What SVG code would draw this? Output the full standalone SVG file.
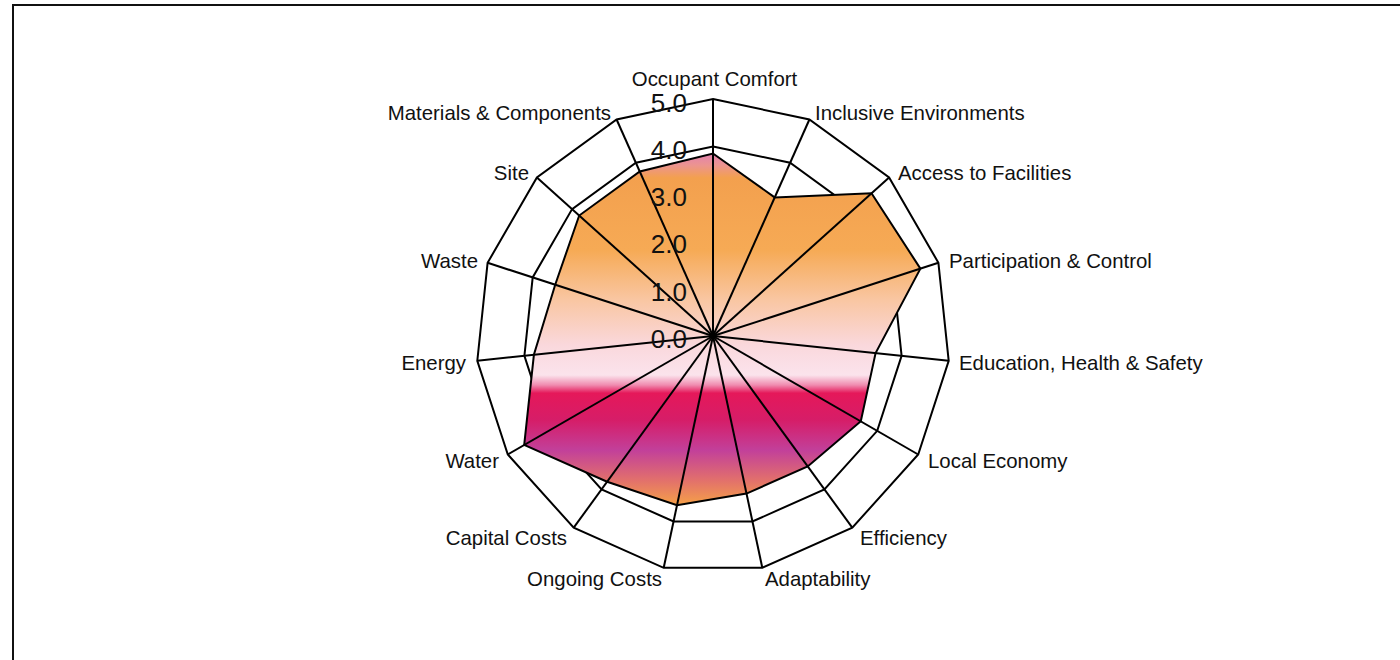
<svg xmlns="http://www.w3.org/2000/svg" width="1400" height="660" viewBox="0 0 1400 660">
<style>
.grid{fill:none;stroke:#000;stroke-width:2;stroke-linejoin:miter}
.spoke{stroke:#000;stroke-width:2}
.lbl{font-family:"Liberation Sans",Arial,sans-serif;font-size:20.4px;fill:#111}
.scl{font-family:"Liberation Sans",Arial,sans-serif;font-size:26px;fill:#111;text-anchor:end}
</style>
<defs>
<linearGradient id="fillGrad" gradientUnits="userSpaceOnUse" x1="0" y1="151" x2="0" y2="505">
<stop offset="0" stop-color="#e07db6"/>
<stop offset="0.04" stop-color="#ec9490"/>
<stop offset="0.076" stop-color="#f3a04e"/>
<stop offset="0.28" stop-color="#f6aa55"/>
<stop offset="0.42" stop-color="#f9c6a2"/>
<stop offset="0.548" stop-color="#fad8dc"/>
<stop offset="0.633" stop-color="#fbe3ec"/>
<stop offset="0.661" stop-color="#f08cb0"/>
<stop offset="0.684" stop-color="#e5185a"/>
<stop offset="0.76" stop-color="#d61d68"/>
<stop offset="0.845" stop-color="#c2409a"/>
<stop offset="0.93" stop-color="#e2706c"/>
<stop offset="1" stop-color="#f5a048"/>
</linearGradient>
</defs>
<rect x="13" y="5" width="1400" height="700" fill="#fff" stroke="#111" stroke-width="2"/>
<g id="grid">
<polygon class="grid" points="713,99 809.4,119.5 889.1,177.4 938.4,262.8 948.7,360.8 918.2,454.5 852.3,527.7 762.3,567.8 663.7,567.8 573.7,527.7 507.8,454.5 477.3,360.8 487.6,262.8 536.9,177.4 616.6,119.5"/>
<polygon class="grid" points="713,146.4 790.1,162.8 853.9,209.1 893.3,277.4 901.6,355.8 877.2,430.8 824.4,489.4 752.4,521.5 673.6,521.5 601.6,489.4 548.8,430.8 524.4,355.8 532.7,277.4 572.1,209.1 635.9,162.8"/>
</g>
<g id="data">
<polygon fill="url(#fillGrad)" stroke="#000" stroke-width="2" stroke-linejoin="miter" points="713,153.5 774.7,197.4 871.5,193.3 920.4,268.6 875.6,353.1 860.8,421.3 807.7,466.4 746.5,493.6 677,505.2 607.1,481.7 524.2,445 533.9,354.8 555.2,284.7 579.2,215.5 639.8,171.5"/>
</g>
<g id="spokes">
<line class="spoke" x1="713" y1="336" x2="713" y2="99"/>
<line class="spoke" x1="713" y1="336" x2="809.4" y2="119.5"/>
<line class="spoke" x1="713" y1="336" x2="889.1" y2="177.4"/>
<line class="spoke" x1="713" y1="336" x2="938.4" y2="262.8"/>
<line class="spoke" x1="713" y1="336" x2="948.7" y2="360.8"/>
<line class="spoke" x1="713" y1="336" x2="918.2" y2="454.5"/>
<line class="spoke" x1="713" y1="336" x2="852.3" y2="527.7"/>
<line class="spoke" x1="713" y1="336" x2="762.3" y2="567.8"/>
<line class="spoke" x1="713" y1="336" x2="663.7" y2="567.8"/>
<line class="spoke" x1="713" y1="336" x2="573.7" y2="527.7"/>
<line class="spoke" x1="713" y1="336" x2="507.8" y2="454.5"/>
<line class="spoke" x1="713" y1="336" x2="477.3" y2="360.8"/>
<line class="spoke" x1="713" y1="336" x2="487.6" y2="262.8"/>
<line class="spoke" x1="713" y1="336" x2="536.9" y2="177.4"/>
<line class="spoke" x1="713" y1="336" x2="616.6" y2="119.5"/>
</g>
<g id="axis-labels">
<text class="lbl" x="714.5" y="86" text-anchor="middle">Occupant Comfort</text>
<text class="lbl" x="815" y="120">Inclusive Environments</text>
<text class="lbl" x="898" y="180">Access to Facilities</text>
<text class="lbl" x="949" y="268">Participation &amp; Control</text>
<text class="lbl" x="959" y="370">Education, Health &amp; Safety</text>
<text class="lbl" x="928" y="468">Local Economy</text>
<text class="lbl" x="860" y="545">Efficiency</text>
<text class="lbl" x="765" y="586">Adaptability</text>
<text class="lbl" x="662" y="586" text-anchor="end">Ongoing Costs</text>
<text class="lbl" x="567" y="545" text-anchor="end">Capital Costs</text>
<text class="lbl" x="499" y="468" text-anchor="end">Water</text>
<text class="lbl" x="466" y="370" text-anchor="end">Energy</text>
<text class="lbl" x="478" y="268" text-anchor="end">Waste</text>
<text class="lbl" x="529" y="180" text-anchor="end">Site</text>
<text class="lbl" x="611" y="120" text-anchor="end">Materials &amp; Components</text>
</g>
<g id="scale-labels">
<text class="scl" x="687" y="348">0.0</text>
<text class="scl" x="687" y="301">1.0</text>
<text class="scl" x="687" y="253">2.0</text>
<text class="scl" x="687" y="206">3.0</text>
<text class="scl" x="687" y="159">4.0</text>
<text class="scl" x="687" y="112">5.0</text>
</g>
</svg>
